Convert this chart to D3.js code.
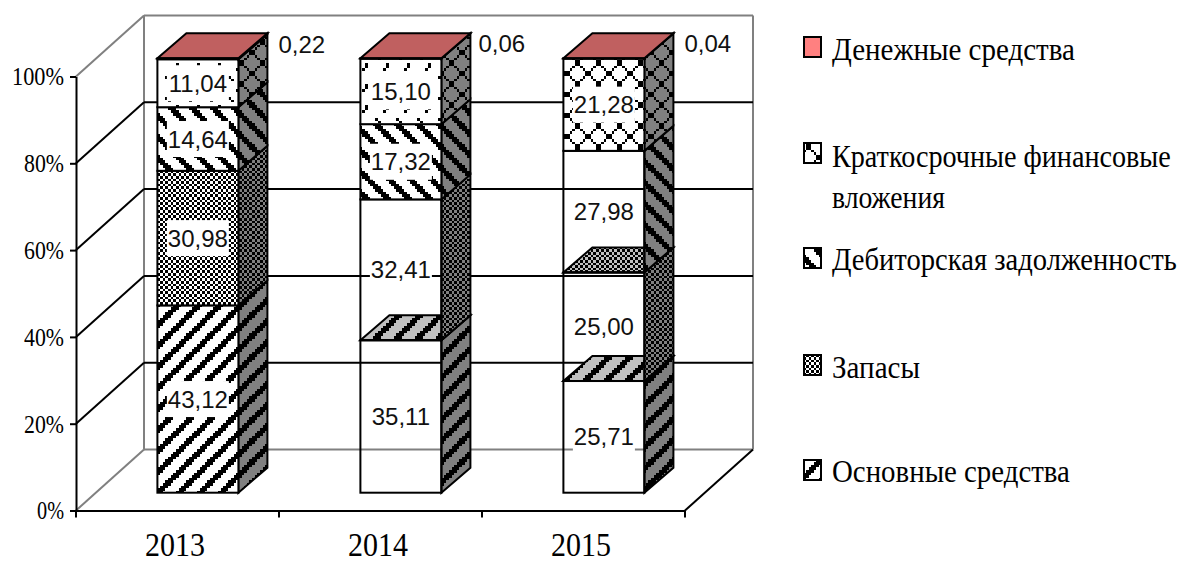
<!DOCTYPE html>
<html lang="ru">
<head>
<meta charset="utf-8">
<title>Структура оборотных и внеоборотных активов</title>
<script src="https://cdn.jsdelivr.net/npm/d3@7/dist/d3.min.js"></script>
<style>
  html, body { margin: 0; padding: 0; background: #fff; }
  svg { display: block; }
</style>
</head>
<body>
<svg id="chart" width="1181" height="562"></svg>
<script>
// Data: share of each asset group per year, percent
const years = ["2013", "2014", "2015"];
const seriesNames = ["Основные средства", "Запасы", "Дебиторская задолженность", "Краткосрочные финансовые вложения", "Денежные средства"];
const fixedAssets = [43.12, 35.11, 25.71];
const inventories = [30.98, 32.41, 25.00];
const receivables = [14.64, 17.32, 27.98];
const investments = [11.04, 15.10, 21.28];
const cash = [0.22, 0.06, 0.04];
const valueTicks = [0, 20, 40, 60, 80, 100];
const seriesValues = [fixedAssets, inventories, receivables, investments, cash];

// Segments whose front face has no fill, so the wall shows through
const hollowFronts = ["2014|1", "2014|0", "2015|0", "2015|1", "2015|2"];

// Hatch bitmaps, one character per cell
const bitmaps = {
  up: ["10000011","00000111","00001110","00011100","00111000","01110000","11100000","11000001"],
  down: ["11000001","11100000","01110000","00111000","00011100","00001110","00000111","10000011"],
  check: ["10101010","01010101","10101010","01010101","10101010","01010101","10101010","01010101"],
  lattice: ["00011000","00100100","01000010","10000001","10000001","01000010","00100100","00011000"],
  sparse: ["00010000","00010000","00100000","00000000","00000000","00000001","10000000","00000000"]
};
const hatchBySeries = ["up", "check", "down", "lattice", null];

const svg = d3.select("#chart");
const defs = svg.append("defs");
const tile = 21;
const cell = tile / 8;

function addPattern(id, rows, bg) {
  const p = defs.append("pattern").attr("id", id)
    .attr("patternUnits", "userSpaceOnUse")
    .attr("width", tile).attr("height", tile);
  p.append("rect").attr("width", tile).attr("height", tile).attr("fill", bg);
  rows.forEach((row, r) => {
    row.split("").forEach((c, k) => {
      if (c === "1") {
        const px = Math.round(k * cell);
        const py = Math.round(r * cell);
        p.append("rect")
          .attr("x", px).attr("y", py)
          .attr("width", Math.round((k + 1) * cell) - px)
          .attr("height", Math.round((r + 1) * cell) - py)
          .attr("shape-rendering", "crispEdges")
          .attr("fill", "#000");
      }
    });
  });
}
Object.entries(bitmaps).forEach(([name, rows]) => {
  addPattern(name + "-front", rows, "#fff");
  addPattern(name + "-side", rows, "#808080");
  addPattern(name + "-top", rows, "#c0c0c0");
});

// Squeezes a text horizontally to a given width around its anchor
function fitWidth(sel, width, dx) {
  sel.each(function () {
    const natural = this.getComputedTextLength();
    d3.select(this).attr("transform", `translate(${dx},0) scale(${width / natural},1)`);
  });
}

// Projection of the 3D box: front plane, bar plane and back wall
const frontY = d3.scaleLinear().domain([0, 100]).range([510.5, 76.5]);
const barY = d3.scaleLinear().domain([0, 100]).range([492.7, 58.3]);
const wallY = d3.scaleLinear().domain([0, 100]).range([449.5, 15.5]);
const xBand = d3.scaleBand().domain(years).range([76, 685]);
const wallDx = 68;
const barW = 81;
const barShift = 20.4;
const barDx = 29;
const barDy = 25;
const barLeft = y => xBand(y) + xBand.bandwidth() / 2 - barW / 2 + barShift;

const gray = "#808080";
const ink = "#000";
const walls = svg.append("g");
const line = (x1, y1, x2, y2, c, w) => walls.append("line")
  .attr("x1", x1).attr("y1", y1).attr("x2", x2).attr("y2", y2)
  .attr("stroke", c).attr("stroke-width", w);

// Wall edges
const [x0, x1] = xBand.range();
line(x0 + wallDx, wallY(100), x0 + wallDx, wallY(0), gray, 2);
line(x1 + wallDx, wallY(100), x1 + wallDx, wallY(0), gray, 2);
line(x0 + wallDx, wallY(100), x1 + wallDx, wallY(100), gray, 2);
line(x0 + wallDx, wallY(0), x1 + wallDx, wallY(0), gray, 2);
line(x0, frontY(100), x0 + wallDx, wallY(100), gray, 2);
line(x0, frontY(0), x0 + wallDx, wallY(0), gray, 2);
line(x1, frontY(0), x1 + wallDx, wallY(0), ink, 2);

// Gridlines run up the side wall and across the back wall
valueTicks.filter(v => v > 0 && v < 100).forEach(v => {
  line(x0, frontY(v), x0 + wallDx, wallY(v), ink, 2);
  line(x0 + wallDx, wallY(v), x1 + wallDx, wallY(v), ink, 2);
});

// Stacked bars, bottom segment first
const bars = svg.append("g").attr("stroke", ink).attr("stroke-width", 2).attr("stroke-linejoin", "miter");
const labelItems = [];
years.forEach((year, yi) => {
  const left = barLeft(year);
  let base = 0;
  seriesNames.forEach((name, si) => {
    const value = seriesValues[si][yi];
    const top = base + value;
    const yb = barY(base);
    const yt = barY(Math.min(top, 100));
    const hatch = hatchBySeries[si];
    const right = left + barW;
    const isHollow = hollowFronts.includes(year + "|" + si);
    const nextHollow = hollowFronts.includes(year + "|" + (si + 1));

    // Side face
    bars.append("path")
      .attr("d", `M${right},${yb}L${right + barDx},${yb - barDy}L${right + barDx},${yt - barDy}L${right},${yt}Z`)
      .attr("fill", hatch ? `url(#${hatch}-side)` : gray);

    // Top face, seen only where nothing opaque sits in front of it
    if (si === seriesNames.length - 1) {
      bars.append("path")
        .attr("d", `M${left},${yt}L${left + barDx},${yt - barDy}L${right + barDx},${yt - barDy}L${right},${yt}Z`)
        .attr("fill", "#c06060");
    } else if (nextHollow) {
      bars.append("path")
        .attr("d", `M${left},${yt}L${left + barDx},${yt - barDy}L${right + barDx},${yt - barDy}L${right},${yt}Z`)
        .attr("fill", `url(#${hatch}-top)`);
    }

    // Front face
    const frontHatch = (si === 3 && year !== "2015") ? "sparse" : hatch;
    bars.append("rect")
      .attr("x", left).attr("y", yt)
      .attr("width", barW).attr("height", Math.max(yb - yt, 0.5))
      .attr("fill", isHollow ? "none" : (hatch ? `url(#${frontHatch}-front)` : "#ff8080"));

    labelItems.push({ year, si, value, cy: (yb + yt) / 2, left, right });
    base = top;
  });
});

// Value labels on white plates
const fmt = v => v.toFixed(2).replace(".", ",");
const cashLabelGap = { "2013": 40, "2014": 37, "2015": 40 };
const labels = svg.append("g")
  .attr("font-family", "'Liberation Sans', Arial, sans-serif")
  .attr("font-size", 24).attr("fill", "#111");
labelItems.forEach(d => {
  if (d.si === seriesNames.length - 1) {
    labels.append("text")
      .attr("x", d.right + cashLabelGap[d.year])
      .attr("y", d.year === "2013" ? 53 : 52).text(fmt(d.value));
    return;
  }
  const cx = (d.left + d.right) / 2;
  labels.append("rect")
    .attr("x", cx - 31).attr("y", d.cy - 18)
    .attr("width", 62).attr("height", 36).attr("fill", "#fff");
  labels.append("text")
    .attr("x", cx).attr("y", d.cy + 8.5)
    .attr("text-anchor", "middle").text(fmt(d.value));
});

// Axes
const serif = "'Liberation Serif', 'Times New Roman', serif";
const yAxis = svg.append("g").attr("transform", `translate(${x0},0)`)
  .call(d3.axisLeft(frontY).tickValues(valueTicks).tickSize(6).tickSizeOuter(0).tickFormat(d => d + "%"));
yAxis.selectAll("text").attr("font-family", serif).attr("font-size", 26).attr("fill", "#000").attr("x", 0);
yAxis.selectAll("text").each(function (d) {
  fitWidth(d3.select(this), d === 100 ? 52 : d === 0 ? 27 : 40, -12);
});
yAxis.selectAll("line").attr("stroke", ink).attr("stroke-width", 2);
yAxis.select(".domain").attr("stroke", ink).attr("stroke-width", 2);

const xAxis = svg.append("g").attr("transform", `translate(0,${frontY(0)})`)
  .call(d3.axisBottom(xBand).tickSize(0).tickPadding(22));
xAxis.select(".domain").attr("stroke", ink).attr("stroke-width", 2);
xAxis.selectAll("text").attr("font-family", serif).attr("font-size", 33).attr("fill", "#000");
fitWidth(xAxis.selectAll("text"), 60, -2.5);

// Ticks between the categories
xBand.domain().concat(null).forEach((y, i) => {
  const tx = x0 + i * xBand.step();
  svg.append("line").attr("x1", tx).attr("x2", tx)
    .attr("y1", frontY(0)).attr("y2", frontY(0) + 7)
    .attr("stroke", ink).attr("stroke-width", 2);
});

// Legend, listed from the top of the stack down
const legendRows = [
  { si: 4, lines: [["Денежные средства", 243, 60]], box: 37 },
  { si: 3, lines: [["Краткосрочные финансовые", 339, 167], ["вложения", 113, 208]], box: 143 },
  { si: 2, lines: [["Дебиторская задолженность", 345, 270]], box: 248 },
  { si: 1, lines: [["Запасы", 88, 378]], box: 355 },
  { si: 0, lines: [["Основные средства", 238, 482]], box: 460 }
];
const legend = svg.append("g").attr("font-family", serif).attr("font-size", 32).attr("fill", "#000");
legendRows.forEach(row => {
  const hatch = hatchBySeries[row.si];
  legend.append("rect")
    .attr("x", 804).attr("y", row.box).attr("width", 17).attr("height", 20)
    .attr("fill", hatch ? `url(#${hatch}-front)` : "#ff8080")
    .attr("stroke", ink).attr("stroke-width", 2);
  row.lines.forEach(([text, len, base]) => {
    const t = legend.append("g").attr("transform", `translate(832,${base})`).append("text").text(text);
    fitWidth(t, len, 0);
  });
});
</script>
</body>
</html>
